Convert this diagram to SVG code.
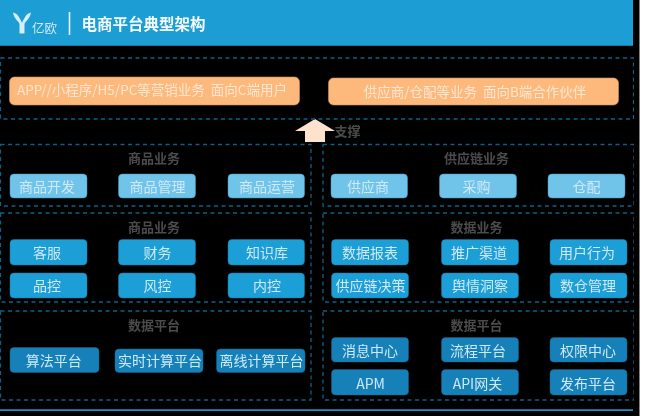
<svg xmlns="http://www.w3.org/2000/svg" width="650" height="416" viewBox="0 0 650 416">
<defs>
<filter id="soft" x="0" y="0" width="100%" height="100%"><feGaussianBlur stdDeviation="0.45"/></filter>
<style>
text{font-family:"Noto Sans CJK SC","Noto Sans",sans-serif;text-anchor:middle;dominant-baseline:central;transform:translateY(-0.8px)}
.panel{fill:none;stroke:#0e5f85;stroke-width:1.3;stroke-dasharray:4 3.5}
.title{font-size:13px;font-weight:700;fill:#4c4c4c}
.t{font-size:14px;fill:#cfe9f6}
.o rect{fill:#fdb97c;stroke:#c9925f;stroke-width:.6}
.o text{font-size:13.5px;fill:#fde6d0}
.l rect{fill:#6fc4ea;stroke:#4b97bb;stroke-width:.5}
.m rect{fill:#1e9ed6;stroke:#177aa6;stroke-width:.5}
.d rect{fill:#1581b8;stroke:#0f658f;stroke-width:.5}
</style></defs>
<rect width="650" height="416" fill="#fff"/>
<rect width="639.5" height="416" fill="#000"/>
<g filter="url(#soft)">
<g id="header">
<rect width="633" height="45.5" fill="#1f9dd3"/>
<path d="M0 45.5H633" stroke="#177aa6" stroke-width="1"/>
<g fill="#d6eef9">
<path d="M13 12.500C16 13 18 15 19.500 18C20.500 20 21.500 21 22 23V33.500H19.500V24C19 21.500 14 19 13 12.500Z"/>
<path d="M31 12.500C28 13 26 15 24.500 18C23.500 20 22.500 21 22 23V33.500H24.500V24C25 21.500 30 19 31 12.500Z"/>
</g>
<text x="44.500" y="28.500" font-size="12.500" fill="#cfeaf7">亿欧</text>
<path d="M69.500 12V35" stroke="#e8f6fc" stroke-width="1.6"/>
<text x="143.500" y="23.800" font-size="15.500" font-weight="700" fill="#f4fbfe">电商平台典型架构</text>
</g>
<g id="connectors">
<path d="M315 119L335 131H325V142H305V131H295Z" fill="#fde3cc"/>
</g>
<g id="support"><text class="title" x="347.500" y="131.500">支撑</text></g>
<g id="panel-top"><rect class="panel" x="0.500" y="58" width="633" height="61"/></g>
<g id="node-c" class="o"><rect x="9.500" y="77" width="290" height="28" rx="5"/><text x="152" y="90" xml:space="preserve">APP//小程序/H5/PC等营销业务  面向C端用户</text></g>
<g id="node-b" class="o"><rect x="328.500" y="78" width="290" height="27" rx="5"/><text x="475" y="92" xml:space="preserve">供应商/仓配等业务  面向B端合作伙伴</text></g>

<g id="panel-goods"><rect class="panel" x="0.500" y="144.500" width="310.500" height="61.500"/><text class="title" x="154" y="158.500">商品业务</text></g>
<g class="l">
<g id="n1"><rect x="10" y="174" width="77" height="24" rx="4"/><text class="t" x="47" y="187">商品开发</text></g>
<g id="n2"><rect x="118.500" y="174" width="77" height="24" rx="4"/><text class="t" x="157.500" y="187">商品管理</text></g>
<g id="n3"><rect x="228" y="174" width="76.500" height="24" rx="4"/><text class="t" x="267" y="187">商品运营</text></g>
</g>
<g id="panel-supply"><rect class="panel" x="323" y="144.500" width="311" height="61.500"/><text class="title" x="476.500" y="158.500">供应链业务</text></g>
<g class="l">
<g id="n4"><rect x="331" y="174" width="76.500" height="24" rx="4"/><text class="t" x="368" y="187">供应商</text></g>
<g id="n5"><rect x="439.500" y="174" width="77" height="24" rx="4"/><text class="t" x="476.500" y="186.500">采购</text></g>
<g id="n6"><rect x="548" y="174" width="77" height="24" rx="4"/><text class="t" x="586.500" y="187">仓配</text></g>
</g>

<g id="panel-goods2"><rect class="panel" x="0.500" y="213" width="310.500" height="89"/><text class="title" x="154" y="227.500">商品业务</text></g>
<g class="m">
<g id="n7"><rect x="10" y="239.500" width="77" height="25.500" rx="4"/><text class="t" x="47" y="253">客服</text></g>
<g id="n8"><rect x="118.500" y="239.500" width="77" height="25.500" rx="4"/><text class="t" x="157.500" y="253">财务</text></g>
<g id="n9"><rect x="228" y="239.500" width="76.500" height="25.500" rx="4"/><text class="t" x="267" y="253">知识库</text></g>
<g id="n10"><rect x="10" y="273" width="77" height="25" rx="4"/><text class="t" x="47" y="286">品控</text></g>
<g id="n11"><rect x="118.500" y="273" width="77" height="25" rx="4"/><text class="t" x="157.500" y="286">风控</text></g>
<g id="n12"><rect x="228" y="273" width="76.500" height="25" rx="4"/><text class="t" x="267" y="286">内控</text></g>
</g>
<g id="panel-data"><rect class="panel" x="323" y="213" width="311" height="89"/><text class="title" x="476.500" y="227.500">数据业务</text></g>
<g class="m">
<g id="n13"><rect x="331.500" y="239.500" width="77" height="25.500" rx="4"/><text class="t" x="370" y="253">数据报表</text></g>
<g id="n14"><rect x="441.500" y="239.500" width="77" height="25.500" rx="4"/><text class="t" x="479" y="253">推广渠道</text></g>
<g id="n15"><rect x="550" y="239.500" width="77" height="25.500" rx="4"/><text class="t" x="587" y="253">用户行为</text></g>
<g id="n16"><rect x="331.500" y="273" width="77" height="25" rx="4"/><text class="t" x="370.500" y="286">供应链决策</text></g>
<g id="n17"><rect x="441.500" y="273" width="77" height="25" rx="4"/><text class="t" x="480" y="286">舆情洞察</text></g>
<g id="n18"><rect x="550" y="273" width="77" height="25" rx="4"/><text class="t" x="588" y="286">数仓管理</text></g>
</g>

<g id="panel-platform"><rect class="panel" x="0.500" y="311" width="310.500" height="89"/><text class="title" x="154" y="325">数据平台</text></g>
<g class="d">
<g id="n19"><rect x="10" y="347.500" width="89" height="25" rx="4"/><text class="t" x="53.700" y="361">算法平台</text></g>
<g id="n20"><rect x="115" y="349" width="88" height="23.500" rx="4"/><text class="t" x="160" y="361">实时计算平台</text></g>
<g id="n21"><rect x="216.500" y="349" width="88.500" height="23.500" rx="4"/><text class="t" x="261.500" y="361">离线计算平台</text></g>
</g>
<g id="panel-platform2"><rect class="panel" x="323" y="311" width="311" height="89"/><text class="title" x="476.500" y="325">数据平台</text></g>
<g class="d">
<g id="n22"><rect x="331.500" y="337.500" width="77" height="24.500" rx="4"/><text class="t" x="370" y="351">消息中心</text></g>
<g id="n23"><rect x="441.500" y="337.500" width="77" height="24.500" rx="4"/><text class="t" x="478" y="351">流程平台</text></g>
<g id="n24"><rect x="550" y="337.500" width="77" height="24.500" rx="4"/><text class="t" x="588" y="351">权限中心</text></g>
<g id="n25"><rect x="331.500" y="369.500" width="77" height="25.500" rx="4"/><text class="t" x="370.500" y="384">APM</text></g>
<g id="n26"><rect x="441.500" y="369.500" width="77" height="25.500" rx="4"/><text class="t" x="477.500" y="384">API网关</text></g>
<g id="n27"><rect x="550" y="369.500" width="77" height="25.500" rx="4"/><text class="t" x="588" y="384">发布平台</text></g>
</g>
<path id="baseline" d="M0 410.300H633" stroke="#1d8fc4" stroke-width="2"/>
</g>
</svg>
